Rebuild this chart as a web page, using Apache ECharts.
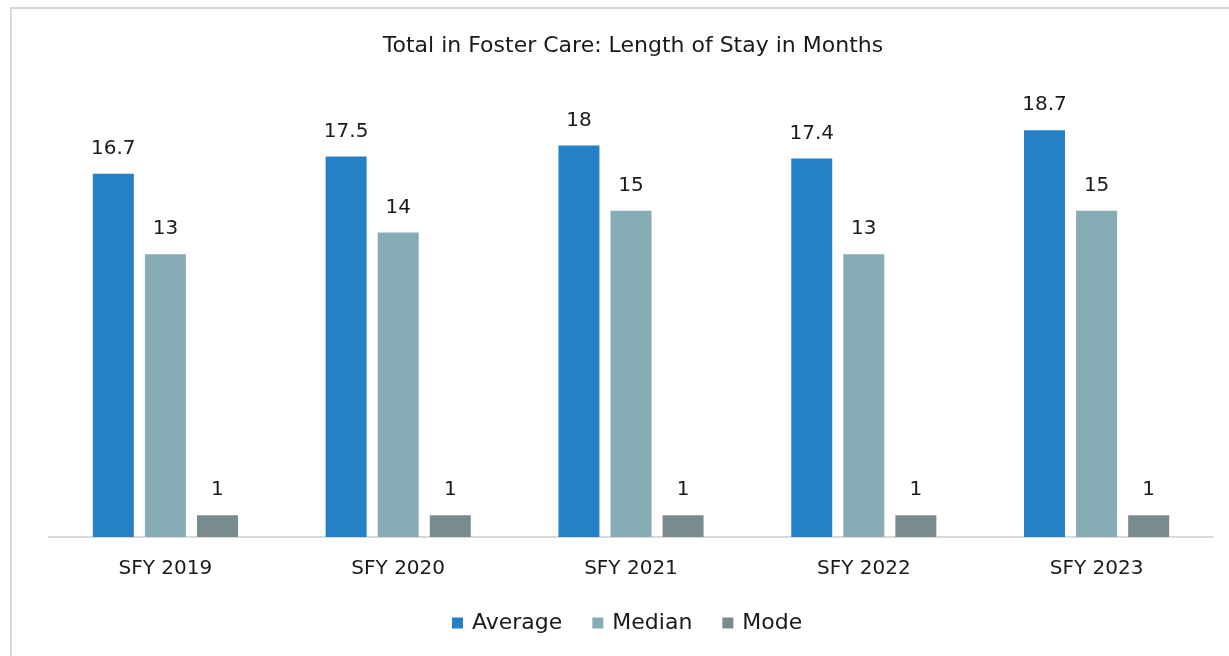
<!DOCTYPE html>
<html>
<head>
<meta charset="utf-8">
<title>Total in Foster Care: Length of Stay in Months</title>
<script src="https://cdn.jsdelivr.net/npm/echarts@6/dist/echarts.min.js"></script>
<style>
  html, body { margin: 0; padding: 0; background: #fff; }
  #chart { width: 1229px; height: 656px; }
</style>
</head>
<body>
<div id="chart"></div>
<script>
// data
const years = ["SFY 2019", "SFY 2020", "SFY 2021", "SFY 2022", "SFY 2023"];
const average = [16.7, 17.5, 18, 17.4, 18.7];
const median = [13, 14, 15, 13, 15];
const mode = [1, 1, 1, 1, 1];

const font = "'DejaVu Sans', sans-serif";
const textColor = "#1a1a1a";

const chart = echarts.init(document.getElementById("chart"));

// same look for every series, only colour changes
const makeSeries = (name, data, color) => ({
  name: name,
  type: "bar",
  data: data,
  barWidth: 41,
  barGap: "27%",
  itemStyle: { color: color },
  label: {
    show: true,
    position: "top",
    distance: 15,
    color: textColor,
    fontFamily: font,
    fontSize: 20,
  },
});

chart.setOption({
  backgroundColor: "#fff",
  animation: false,
  graphic: [
    {
      // frame round the chart (right and bottom sides fall off the picture)
      type: "rect",
      shape: { x: 11, y: 8, width: 1240, height: 680 },
      style: { fill: null, stroke: "#d9d9d9", lineWidth: 2 },
      silent: true,
    },
  ],
  title: {
    text: "Total in Foster Care: Length of Stay in Months",
    left: 628,
    textAlign: "center",
    top: 30,
    textStyle: {
      color: textColor,
      fontFamily: font,
      fontSize: 22,
      fontWeight: "normal",
    },
  },
  legend: {
    top: 607,
    left: 447,
    itemWidth: 11,
    itemHeight: 11,
    itemGap: 30,
    icon: "rect",
    textStyle: {
      color: textColor,
      fontFamily: font,
      fontSize: 22,
      padding: [0, 0, 0, 4],
    },
    data: ["Average", "Median", "Mode"],
  },
  grid: {
    left: 49,
    right: 16,
    top: 102,
    bottom: 119,
  },
  xAxis: {
    type: "category",
    data: years,
    axisLine: { lineStyle: { color: "#d9d9d9", width: 2 } },
    axisTick: { show: false },
    axisLabel: {
      color: textColor,
      fontFamily: font,
      fontSize: 20,
      margin: 22,
    },
  },
  yAxis: {
    type: "value",
    min: 0,
    max: 20,
    show: false,
    splitLine: { show: false },
  },
  series: [
    makeSeries("Average", average, "#2580c6"),
    makeSeries("Median", median, "#86acb5"),
    makeSeries("Mode", mode, "#788b8e"),
  ],
});
</script>
</body>
</html>
